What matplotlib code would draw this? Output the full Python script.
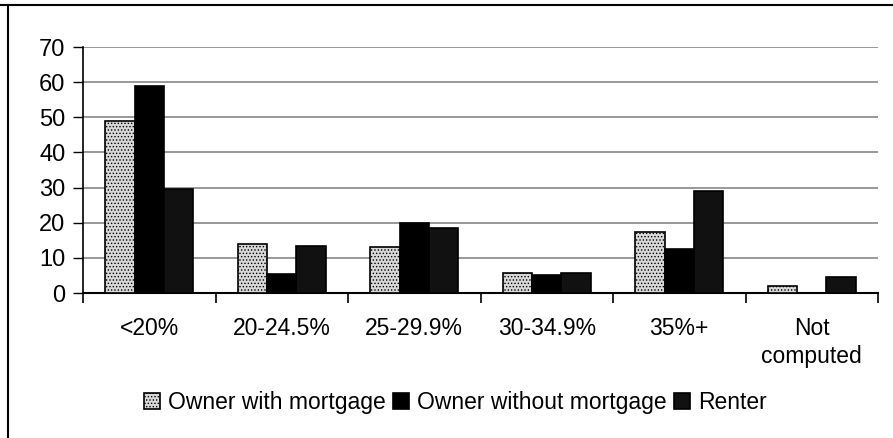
import matplotlib.pyplot as plt
import numpy as np
from matplotlib.lines import Line2D

plt.rcParams['font.family'] = ['Liberation Sans', 'DejaVu Sans']
plt.rcParams['hatch.linewidth'] = 0.6

categories = ['<20%', '20-24.5%', '25-29.9%', '30-34.9%', '35%+', 'Not\ncomputed']
with_mortgage = [49, 14, 13, 5.6, 17.3, 2]
without_mortgage = [59, 5.4, 20, 5.1, 12.5, 0]
renter = [29.6, 13.5, 18.6, 5.8, 29, 4.6]
series_names = ['Owner with mortgage', 'Owner without mortgage', 'Renter']

fig = plt.figure(figsize=(8.93, 4.38), dpi=100)
ax = fig.add_axes([83 / 893, 1 - 293 / 438, 795 / 893, 246 / 438])

x = np.arange(len(categories)) + 0.5
w = 0.222
b1 = ax.bar(x - w, with_mortgage, w, color='#d8d8d8', edgecolor='black',
            hatch='.....', linewidth=1.2, label=series_names[0], zorder=3)
b2 = ax.bar(x, without_mortgage, w, color='black', edgecolor='black',
            linewidth=1.2, label=series_names[1], zorder=3)
b3 = ax.bar(x + w, renter, w, color='#111111', edgecolor='black',
            linewidth=1.2, label=series_names[2], zorder=3)

ax.set_xlim(0, len(categories))
ax.set_ylim(0, 70)
ax.set_yticks(range(0, 71, 10))
ax.yaxis.grid(True, color='#888888', linewidth=1.2, zorder=0)
ax.set_xticks(x)
ax.set_xticklabels(categories, fontsize=16.5, linespacing=1.3)
ax.set_xticks(np.arange(len(categories) + 1), minor=True)
ax.tick_params(axis='x', which='major', length=0, pad=17)
ax.tick_params(axis='x', which='minor', length=7, width=1.2, direction='out')
ax.tick_params(axis='y', labelsize=17, length=7.2, width=1, pad=5.5)
for s in ['top', 'right']:
    ax.spines[s].set_visible(False)
ax.spines['left'].set_linewidth(1.2)
ax.spines['bottom'].set_linewidth(1.5)

fig.legend(handles=[b1, b2, b3], labels=series_names, loc='center',
           bbox_to_anchor=(0.51, 0.082), ncol=3, frameon=False, fontsize=16.5,
           handlelength=0.7, handleheight=0.7, handletextpad=0.35,
           columnspacing=0.3)

# scanned page frame
fig.add_artist(Line2D([0, 1], [1 - 5 / 438, 1 - 5 / 438], color='black', linewidth=1.5))
fig.add_artist(Line2D([8 / 893, 8 / 893], [0, 1 - 5 / 438], color='black', linewidth=1.5))

fig.savefig('out.png', dpi=100)
